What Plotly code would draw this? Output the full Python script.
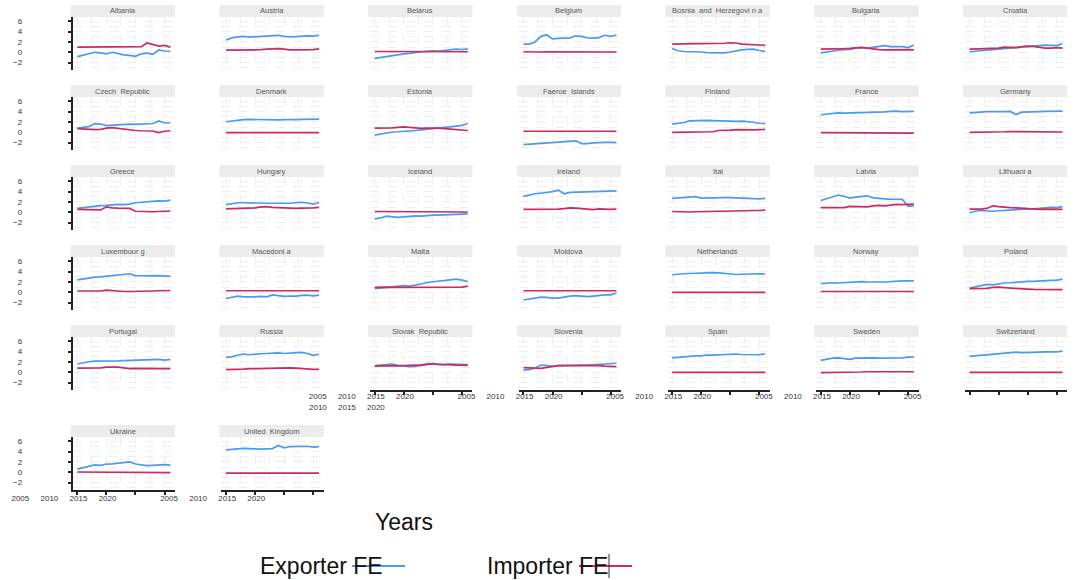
import plotly.graph_objects as go

# ---------------------------------------------------------------- data
years = list(range(2005, 2022))
y_ticks = [-2, 0, 2, 4, 6]
x_ticks = [2005, 2010, 2015, 2020]

alb_exp = [-0.85, -0.6, -0.3, 0.0, -0.1, -0.3, 0.0, -0.3, -0.5, -0.6, -0.8, -0.3, -0.15, -0.4, 0.45, 0.25, 0.2]
alb_imp = [1.0, 1.0, 1.0, 1.0, 1.0, 1.05, 1.05, 1.05, 1.05, 1.05, 1.1, 1.1, 1.8, 1.45, 1.2, 1.35, 1.0]
aut_exp = [2.4, 2.8, 3.0, 3.1, 2.95, 3.0, 3.1, 3.15, 3.25, 3.3, 3.1, 3.0, 3.05, 3.15, 3.2, 3.15, 3.3]
aut_imp = [0.4, 0.4, 0.4, 0.4, 0.45, 0.45, 0.5, 0.6, 0.7, 0.7, 0.6, 0.45, 0.45, 0.45, 0.45, 0.5, 0.65]
blr_exp = [-1.2, -1.0, -0.8, -0.6, -0.4, -0.3, -0.2, 0.0, 0.1, 0.2, 0.3, 0.25, 0.35, 0.45, 0.6, 0.5, 0.65]
blr_imp = [0.15, 0.15, 0.15, 0.15, 0.15, 0.15, 0.15, 0.15, 0.15, 0.15, 0.15, 0.15, 0.15, 0.1, 0.1, 0.1, 0.1]
bel_exp = [1.6, 1.6, 2.0, 3.1, 3.4, 2.6, 2.7, 2.75, 2.8, 3.2, 3.1, 2.8, 2.75, 2.85, 3.3, 3.1, 3.35]
bel_imp = [0.1, 0.05, 0.0, 0.05, 0.1, 0.1, 0.15, 0.15, 0.1, 0.1, 0.1, 0.1, 0.1, 0.05, 0.05, 0.05, 0.05]
bih_exp = [0.75, 0.3, 0.15, 0.15, 0.1, 0.05, -0.05, -0.1, -0.1, -0.1, 0.05, 0.3, 0.45, 0.55, 0.6, 0.35, 0.15]
bih_imp = [1.6, 1.65, 1.7, 1.7, 1.7, 1.7, 1.7, 1.7, 1.7, 1.75, 1.85, 1.8, 1.6, 1.55, 1.55, 1.5, 1.35]
bgr_exp = [-0.1, 0.1, 0.3, 0.4, 0.5, 0.55, 0.8, 0.9, 0.8, 1.0, 1.2, 1.3, 1.1, 1.1, 1.1, 0.9, 1.4]
bgr_imp = [0.6, 0.6, 0.6, 0.65, 0.7, 0.75, 0.85, 0.95, 0.8, 0.6, 0.5, 0.45, 0.5, 0.45, 0.5, 0.5, 0.45]
hrv_exp = [0.1, 0.2, 0.35, 0.5, 0.5, 0.6, 0.8, 0.9, 1.0, 1.1, 1.1, 1.2, 1.35, 1.4, 1.35, 1.3, 1.7]
hrv_imp = [0.6, 0.6, 0.65, 0.7, 0.75, 0.8, 1.0, 0.95, 0.9, 1.1, 1.2, 1.15, 1.0, 0.8, 0.8, 0.9, 0.8]

cze_exp = [0.8, 0.95, 1.1, 1.7, 1.6, 1.3, 1.4, 1.5, 1.6, 1.6, 1.55, 1.6, 1.6, 1.7, 2.2, 1.8, 1.85]
cze_imp = [0.7, 0.6, 0.6, 0.5, 0.55, 0.8, 0.9, 0.75, 0.6, 0.45, 0.35, 0.3, 0.3, 0.25, -0.05, 0.2, 0.3]
dnk_exp = [2.05, 2.2, 2.35, 2.45, 2.5, 2.45, 2.4, 2.45, 2.35, 2.4, 2.45, 2.4, 2.45, 2.5, 2.5, 2.55, 2.55]
dnk_imp = [-0.05, -0.05, -0.05, -0.05, -0.05, -0.05, -0.05, -0.05, -0.05, -0.1, -0.1, -0.1, -0.1, -0.1, -0.05, -0.05, -0.05]
est_exp = [-0.55, -0.35, -0.15, 0.05, 0.1, 0.15, 0.25, 0.35, 0.45, 0.6, 0.75, 0.85, 0.95, 1.05, 1.2, 1.35, 1.7]
est_imp = [0.8, 0.8, 0.8, 0.85, 0.95, 1.05, 0.95, 0.8, 0.75, 0.8, 0.85, 0.8, 0.7, 0.6, 0.45, 0.35, 0.35]
fro_exp = [-2.4, -2.3, -2.2, -2.15, -2.1, -2.0, -1.9, -1.8, -1.7, -1.65, -2.2, -2.2, -2.05, -1.95, -1.95, -1.95, -2.0]
fro_imp = [0.2, 0.2, 0.2, 0.2, 0.2, 0.15, 0.15, 0.15, 0.2, 0.2, 0.2, 0.2, 0.2, 0.2, 0.2, 0.2, 0.2]
fin_exp = [1.6, 1.7, 1.9, 2.2, 2.25, 2.2, 2.3, 2.25, 2.2, 2.1, 2.1, 2.1, 2.15, 2.1, 1.95, 1.75, 1.7]
fin_imp = [0.0, 0.0, 0.0, 0.0, 0.0, 0.0, 0.05, 0.1, 0.35, 0.35, 0.4, 0.5, 0.45, 0.4, 0.45, 0.5, 0.55]
fra_exp = [3.4, 3.5, 3.65, 3.75, 3.7, 3.7, 3.75, 3.8, 3.85, 3.85, 3.9, 3.95, 4.05, 4.1, 4.0, 4.05, 4.05]
fra_imp = [-0.05, -0.05, -0.05, -0.05, -0.05, -0.05, -0.05, -0.05, -0.1, -0.1, -0.1, -0.15, -0.15, -0.15, -0.15, -0.15, -0.15]
deu_exp = [3.75, 3.85, 3.95, 4.0, 4.0, 3.95, 4.0, 4.05, 3.45, 3.9, 3.9, 3.95, 4.0, 4.05, 4.1, 4.1, 4.1]
deu_imp = [0.0, 0.0, 0.0, 0.05, 0.05, 0.1, 0.1, 0.15, 0.15, 0.1, 0.1, 0.1, 0.05, 0.05, 0.05, 0.05, 0.05]

grc_exp = [0.75, 0.9, 1.05, 1.2, 1.3, 1.35, 1.5, 1.55, 1.5, 1.6, 1.85, 1.95, 2.05, 2.15, 2.2, 2.15, 2.35]
grc_imp = [0.55, 0.5, 0.45, 0.4, 0.45, 1.05, 0.85, 0.8, 0.8, 0.75, 0.2, 0.15, 0.15, 0.1, 0.15, 0.2, 0.25]
hun_exp = [1.5, 1.7, 1.85, 1.85, 1.8, 1.75, 1.8, 1.75, 1.75, 1.8, 1.75, 1.75, 1.9, 1.95, 1.8, 1.6, 1.9]
hun_imp = [0.65, 0.7, 0.7, 0.7, 0.7, 0.85, 1.05, 1.1, 0.95, 0.9, 0.85, 0.7, 0.75, 0.8, 0.8, 0.85, 0.95]
isl_exp = [-1.3, -1.1, -0.75, -0.85, -1.0, -0.9, -0.8, -0.7, -0.75, -0.6, -0.55, -0.55, -0.5, -0.45, -0.35, -0.3, -0.3]
isl_imp = [0.15, 0.15, 0.1, 0.1, 0.15, 0.1, 0.1, 0.15, 0.15, 0.15, 0.1, 0.15, 0.1, 0.1, 0.05, 0.05, 0.05]
irl_exp = [3.1, 3.4, 3.6, 3.7, 3.8, 4.0, 4.3, 3.6, 3.85, 3.9, 3.9, 3.9, 4.0, 4.05, 4.1, 4.15, 4.15]
irl_imp = [0.55, 0.55, 0.55, 0.55, 0.6, 0.6, 0.6, 0.7, 0.85, 0.8, 0.7, 0.6, 0.5, 0.65, 0.55, 0.55, 0.6]
ita_exp = [2.7, 2.8, 2.95, 3.05, 3.05, 2.75, 2.8, 2.85, 2.8, 2.85, 2.85, 2.8, 2.8, 2.8, 2.75, 2.6, 2.7]
ita_imp = [0.15, 0.1, 0.05, 0.05, 0.1, 0.15, 0.2, 0.2, 0.2, 0.2, 0.25, 0.3, 0.35, 0.4, 0.35, 0.35, 0.45]
lva_exp = [2.3, 2.6, 3.0, 3.35, 3.1, 2.75, 2.95, 3.1, 3.2, 2.8, 2.65, 2.6, 2.55, 2.5, 2.5, 1.2, 1.25]
lva_imp = [0.9, 0.9, 0.85, 0.8, 0.9, 1.15, 1.1, 1.15, 1.05, 1.25, 1.35, 1.25, 1.35, 1.55, 1.5, 1.5, 1.6]
ltu_exp = [-0.1, 0.2, 0.35, 0.3, 0.2, 0.3, 0.35, 0.45, 0.55, 0.6, 0.55, 0.6, 0.75, 0.85, 0.95, 0.9, 1.1]
ltu_imp = [0.6, 0.6, 0.6, 0.75, 1.25, 1.1, 0.95, 0.9, 0.85, 0.75, 0.65, 0.6, 0.55, 0.6, 0.6, 0.55, 0.55]

lux_exp = [2.4, 2.6, 2.8, 2.95, 3.0, 3.1, 3.25, 3.35, 3.4, 3.6, 3.25, 3.2, 3.2, 3.2, 3.25, 3.2, 3.1]
lux_imp = [0.25, 0.25, 0.2, 0.2, 0.25, 0.4, 0.3, 0.2, 0.15, 0.15, 0.15, 0.2, 0.25, 0.25, 0.3, 0.35, 0.35]
mkd_exp = [-1.2, -1.0, -0.75, -0.9, -0.95, -0.9, -0.8, -0.9, -0.5, -0.7, -0.8, -0.75, -0.75, -0.6, -0.55, -0.7, -0.55]
mkd_imp = [0.3, 0.3, 0.3, 0.3, 0.3, 0.3, 0.3, 0.3, 0.3, 0.3, 0.3, 0.3, 0.3, 0.3, 0.3, 0.3, 0.3]
mlt_exp = [0.7, 0.8, 0.95, 1.05, 1.15, 1.3, 1.2, 1.35, 1.6, 1.9, 2.05, 2.2, 2.3, 2.45, 2.55, 2.35, 2.1]
mlt_imp = [0.95, 1.0, 1.0, 0.95, 0.95, 1.0, 1.0, 0.95, 0.95, 0.9, 0.9, 0.9, 0.9, 0.95, 0.95, 1.0, 1.2]
mda_exp = [-1.5, -1.3, -1.1, -0.95, -1.0, -1.15, -1.15, -0.9, -0.75, -0.65, -0.8, -0.85, -0.75, -0.6, -0.5, -0.5, -0.15]
mda_imp = [0.3, 0.3, 0.3, 0.3, 0.3, 0.3, 0.3, 0.3, 0.3, 0.3, 0.3, 0.3, 0.3, 0.3, 0.3, 0.3, 0.3]
nld_exp = [3.4, 3.55, 3.6, 3.65, 3.7, 3.75, 3.8, 3.8, 3.75, 3.65, 3.55, 3.45, 3.5, 3.55, 3.6, 3.6, 3.55]
nld_imp = [0.0, 0.0, 0.0, 0.0, 0.0, 0.0, 0.0, -0.05, -0.05, -0.05, -0.05, -0.05, 0.0, 0.0, 0.0, 0.0, 0.0]
nor_exp = [1.7, 1.8, 1.85, 1.8, 1.9, 1.95, 2.0, 2.05, 2.0, 1.95, 2.0, 2.0, 2.1, 2.15, 2.2, 2.2, 2.2]
nor_imp = [0.15, 0.15, 0.15, 0.15, 0.15, 0.15, 0.15, 0.15, 0.15, 0.15, 0.15, 0.15, 0.15, 0.15, 0.15, 0.15, 0.15]
pol_exp = [0.8, 1.05, 1.35, 1.55, 1.45, 1.7, 1.8, 1.85, 1.95, 2.05, 2.1, 2.1, 2.2, 2.25, 2.3, 2.35, 2.55]
pol_imp = [0.7, 0.7, 0.7, 0.75, 0.95, 1.0, 0.9, 0.8, 0.7, 0.65, 0.6, 0.55, 0.55, 0.55, 0.5, 0.5, 0.5]

prt_exp = [1.6, 1.9, 2.05, 2.15, 2.15, 2.1, 2.15, 2.2, 2.25, 2.3, 2.4, 2.4, 2.45, 2.5, 2.5, 2.35, 2.5]
prt_imp = [0.8, 0.8, 0.8, 0.8, 0.85, 1.0, 1.05, 1.0, 0.85, 0.7, 0.75, 0.75, 0.7, 0.65, 0.65, 0.75, 0.7]
rus_exp = [2.9, 3.0, 3.3, 3.55, 3.4, 3.55, 3.6, 3.65, 3.7, 3.75, 3.65, 3.7, 3.75, 3.85, 3.65, 3.3, 3.5]
rus_imp = [0.5, 0.5, 0.5, 0.6, 0.7, 0.65, 0.7, 0.75, 0.8, 0.85, 0.8, 0.85, 0.8, 0.7, 0.6, 0.55, 0.55]
svk_exp = [1.3, 1.4, 1.5, 1.6, 1.35, 1.2, 1.1, 1.15, 1.35, 1.5, 1.6, 1.5, 1.5, 1.6, 1.55, 1.5, 1.5]
svk_imp = [1.2, 1.25, 1.3, 1.3, 1.25, 1.3, 1.3, 1.35, 1.45, 1.6, 1.7, 1.55, 1.55, 1.5, 1.4, 1.35, 1.35]
svn_exp = [0.4, 0.5, 0.85, 1.4, 1.3, 1.15, 1.3, 1.35, 1.35, 1.4, 1.4, 1.4, 1.45, 1.5, 1.6, 1.65, 1.75]
svn_imp = [0.9, 0.9, 0.8, 0.75, 0.9, 1.15, 1.3, 1.3, 1.3, 1.35, 1.3, 1.3, 1.3, 1.3, 1.2, 1.1, 1.1]
esp_exp = [2.8, 2.9, 3.1, 3.2, 3.2, 3.2, 3.35, 3.35, 3.4, 3.35, 3.4, 3.55, 3.45, 3.45, 3.45, 3.4, 3.6]
esp_imp = [0.0, 0.0, 0.0, 0.0, 0.0, 0.0, 0.0, 0.0, 0.0, 0.0, 0.0, 0.0, 0.0, 0.0, 0.0, 0.0, 0.0]
swe_exp = [2.3, 2.5, 2.75, 2.8, 2.6, 2.5, 2.75, 2.8, 2.85, 2.8, 2.75, 2.75, 2.8, 2.8, 2.8, 2.95, 2.95]
swe_imp = [-0.05, -0.05, -0.05, 0.0, 0.0, 0.05, 0.05, 0.05, 0.1, 0.1, 0.1, 0.1, 0.1, 0.1, 0.1, 0.1, 0.1]
che_exp = [3.1, 3.2, 3.4, 3.5, 3.6, 3.7, 3.75, 3.8, 3.9, 3.8, 3.8, 3.85, 3.9, 3.95, 3.9, 3.95, 4.1]
che_imp = [0.0, 0.0, 0.0, 0.0, 0.0, 0.0, 0.0, 0.0, 0.0, 0.0, 0.0, 0.0, 0.0, 0.0, 0.0, 0.0, 0.0]

ukr_exp = [0.6, 0.9, 1.2, 1.45, 1.35, 1.6, 1.65, 1.75, 1.8, 2.0, 1.6, 1.45, 1.3, 1.35, 1.45, 1.5, 1.4]
ukr_imp = [0.05, 0.05, 0.05, 0.05, 0.05, 0.05, 0.05, 0.05, 0.05, 0.05, 0.05, 0.05, 0.05, 0.0, 0.0, 0.0, -0.05]
gbr_exp = [4.35, 4.45, 4.55, 4.65, 4.6, 4.5, 4.5, 4.55, 4.6, 5.2, 4.75, 5.0, 5.0, 5.05, 5.05, 4.9, 5.0]
gbr_imp = [-0.15, -0.15, -0.15, -0.15, -0.15, -0.15, -0.15, -0.15, -0.15, -0.15, -0.15, -0.15, -0.15, -0.15, -0.15, -0.15, -0.15]

panels = [
    ("Albania", alb_exp, alb_imp), ("Austria", aut_exp, aut_imp), ("Belarus", blr_exp, blr_imp),
    ("Belgium", bel_exp, bel_imp), ("Bosnia  and  Herzegovi n a", bih_exp, bih_imp),
    ("Bulgaria", bgr_exp, bgr_imp), ("Croatia", hrv_exp, hrv_imp),
    ("Czech  Republic", cze_exp, cze_imp), ("Denmark", dnk_exp, dnk_imp), ("Estonia", est_exp, est_imp),
    ("Faeroe  Islands", fro_exp, fro_imp), ("Finland", fin_exp, fin_imp), ("France", fra_exp, fra_imp),
    ("Germany", deu_exp, deu_imp),
    ("Greece", grc_exp, grc_imp), ("Hungary", hun_exp, hun_imp), ("Iceland", isl_exp, isl_imp),
    ("Ireland", irl_exp, irl_imp), ("Ital", ita_exp, ita_imp), ("Latvia", lva_exp, lva_imp),
    ("Lithuani a", ltu_exp, ltu_imp),
    ("Luxembour g", lux_exp, lux_imp), ("Macedoni a", mkd_exp, mkd_imp), ("Malta", mlt_exp, mlt_imp),
    ("Moldova", mda_exp, mda_imp), ("Netherlands", nld_exp, nld_imp), ("Norway", nor_exp, nor_imp),
    ("Poland", pol_exp, pol_imp),
    ("Portugal", prt_exp, prt_imp), ("Russia", rus_exp, rus_imp), ("Slovak  Republic", svk_exp, svk_imp),
    ("Slovenia", svn_exp, svn_imp), ("Spain", esp_exp, esp_imp), ("Sweden", swe_exp, swe_imp),
    ("Switzerland", che_exp, che_imp),
    ("Ukraine", ukr_exp, ukr_imp), ("United  Kingdom", gbr_exp, gbr_imp),
]

# ---------------------------------------------------------------- layout geometry (pixels)
W, H = 1074, 580
N_COLS = 7
COL_LEFT0, COL_PITCH, PANEL_W = 72.7, 148.7, 102.3
ROW_TOPS = [17, 97, 177, 257, 337, 437]
PANEL_H, STRIP_H = 53, 12
X_RANGE = [2004.2, 2021.8]
Y_RANGE = [-3.44, 6.85]

EXP_COLOR = "#4A9AEE"
IMP_COLOR = "#CE2A5C"
FONT = "Liberation Sans, Arial, sans-serif"
GRID = "#efefef"

n_panels = len(panels)
n_rows = (n_panels + N_COLS - 1) // N_COLS
# bottom panel of each column carries the x axis
bottom_of_col = {}
for i in range(n_panels):
    bottom_of_col[i % N_COLS] = i

fig = go.Figure()
layout = {}
shapes = []
annotations = []


def px_x(v):
    return v / W


def px_y(v):
    return 1 - v / H


for i, (name, exp_vals, imp_vals) in enumerate(panels):
    r, c = divmod(i, N_COLS)
    left = COL_LEFT0 + COL_PITCH * c
    top = ROW_TOPS[r]
    sfx = "" if i == 0 else str(i + 1)
    xa, ya = "x" + sfx, "y" + sfx

    fig.add_trace(go.Scatter(x=years, y=exp_vals, mode="lines", xaxis=xa, yaxis=ya,
                             line=dict(color=EXP_COLOR, width=1.7), showlegend=False,
                             name="Exporter FE"))
    fig.add_trace(go.Scatter(x=years, y=imp_vals, mode="lines", xaxis=xa, yaxis=ya,
                             line=dict(color=IMP_COLOR, width=1.7), showlegend=False,
                             name="Importer FE"))

    has_x = bottom_of_col[c] == i
    xaxis = dict(domain=[px_x(left), px_x(left + PANEL_W)], range=X_RANGE, anchor=ya,
                 automargin=False,
                 tickvals=x_ticks, showgrid=True, gridcolor=GRID, griddash="dash", gridwidth=1,
                 minor=dict(showgrid=True, gridcolor=GRID, griddash="dash", dtick=2.5,
                            tick0=2002.5),
                 zeroline=False, fixedrange=True)
    if has_x:
        standoff = -6 if r < n_rows - 1 else -4
        xaxis.update(showline=True, linecolor="#222", linewidth=2, ticks="outside",
                     ticklen=3, tickwidth=1.5, tickcolor="#222",
                     showticklabels=True, ticklabelshift=-57, ticklabelstandoff=standoff,
                     tickfont=dict(family=FONT, size=8, color="#333"))
        if name == "Switzerland":
            xaxis.update(tickmode="array", tickvals=x_ticks, ticktext=["2005", "", "", ""])
    else:
        xaxis.update(showline=False, ticks="", showticklabels=False)

    yaxis = dict(domain=[px_y(top + PANEL_H), px_y(top)], range=Y_RANGE, anchor=xa,
                 automargin=False,
                 tickvals=y_ticks, showgrid=True, gridcolor=GRID, griddash="dash", gridwidth=1,
                 minor=dict(showgrid=True, gridcolor=GRID, griddash="dash", dtick=1, tick0=-3),
                 zeroline=False, fixedrange=True)
    if c == 0:
        yaxis.update(showline=True, linecolor="#222", linewidth=2, ticks="outside",
                     ticklen=3, tickwidth=1.5, tickcolor="#222", showticklabels=True,
                     ticklabelstandoff=44,
                     tickfont=dict(family=FONT, size=8, color="#333"))
    else:
        yaxis.update(showline=False, ticks="", showticklabels=False)

    layout["xaxis" + sfx] = xaxis
    layout["yaxis" + sfx] = yaxis

    # facet strip
    shapes.append(dict(type="rect", xref="paper", yref="paper", layer="below",
                       x0=px_x(left - 2), x1=px_x(left + PANEL_W),
                       y0=px_y(top), y1=px_y(top - STRIP_H),
                       fillcolor="#ececec", line=dict(width=0)))
    annotations.append(dict(xref="paper", yref="paper", x=px_x(left + PANEL_W / 2 - 1),
                            y=px_y(top - STRIP_H / 2), text=name, showarrow=False,
                            xanchor="center", yanchor="middle",
                            font=dict(family=FONT, size=7.5, color="#555")))

# stray second line of year labels under the Slovak Republic axis
svk_axis = "x" + str([p[0] for p in panels].index("Slovak  Republic") + 1)
for yr, txt in zip(x_ticks[:3], ["2010", "2015", "2020"]):
    annotations.append(dict(xref=svk_axis, yref="paper", x=yr, y=px_y(407), text=txt,
                            showarrow=False, xshift=-57, xanchor="center", yanchor="middle",
                            font=dict(family=FONT, size=8, color="#333")))

# axis title
annotations.append(dict(xref="paper", yref="paper", x=px_x(404), y=px_y(522), text="Years",
                        showarrow=False, xanchor="center", yanchor="middle",
                        font=dict(family=FONT, size=23, color="#111")))

# legend
annotations.append(dict(xref="paper", yref="paper", x=px_x(258), y=px_y(566),
                        text="Exporter FE", showarrow=False, xanchor="left", yanchor="middle",
                        font=dict(family=FONT, size=23, color="#111")))
annotations.append(dict(xref="paper", yref="paper", x=px_x(485), y=px_y(566),
                        text="Importer FE", showarrow=False, xanchor="left", yanchor="middle",
                        font=dict(family=FONT, size=23, color="#111")))
shapes.append(dict(type="line", xref="paper", yref="paper", x0=px_x(352), x1=px_x(405),
                   y0=px_y(566), y1=px_y(566), line=dict(color=EXP_COLOR, width=2)))
shapes.append(dict(type="line", xref="paper", yref="paper", x0=px_x(579), x1=px_x(632),
                   y0=px_y(566), y1=px_y(566), line=dict(color=IMP_COLOR, width=2)))
shapes.append(dict(type="line", xref="paper", yref="paper", x0=px_x(609), x1=px_x(609),
                   y0=px_y(554), y1=px_y(578), line=dict(color="#333", width=1)))

fig.update_layout(
    width=W, height=H,
    margin=dict(l=0, r=0, t=0, b=0, autoexpand=False),
    paper_bgcolor="white", plot_bgcolor="white",
    showlegend=False,
    shapes=shapes, annotations=annotations,
    font=dict(family=FONT),
    **layout,
)

fig.write_html("out.html", config={"displayModeBar": False})
